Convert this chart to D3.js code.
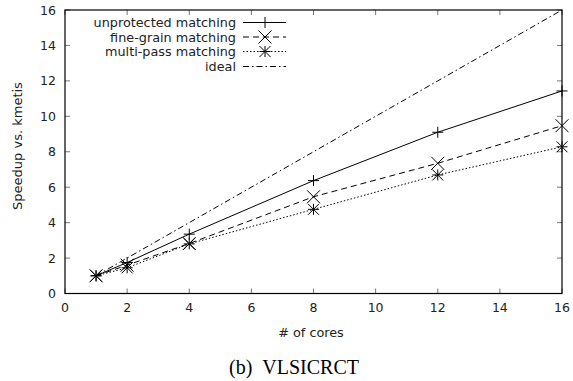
<!DOCTYPE html>
<html>
<head>
<meta charset="utf-8">
<script src="https://cdn.jsdelivr.net/npm/d3@7"></script>
<style>
  body { margin: 0; background: #fff; }
  svg { display: block; }
</style>
</head>
<body>
<div id="chart"></div>
<script>
// Speedup data
const cores = [1, 2, 4, 8, 12, 16]
const unprotected = [1.0, 1.75, 3.35, 6.37, 9.1, 11.43]
const fineGrain = [1.0, 1.6, 2.82, 5.46, 7.35, 9.47]
const multiPass = [1.0, 1.45, 2.8, 4.75, 6.69, 8.28]
const ideal = [1, 2, 4, 8, 12, 16]
const xTicks = [0, 2, 4, 6, 8, 10, 12, 14, 16]
const yTicks = [0, 2, 4, 6, 8, 10, 12, 14, 16]
const seriesNames = ["unprotected matching", "fine-grain matching", "multi-pass matching", "ideal"]

const width = 573, height = 381
const margin = { left: 65, right: 11, top: 10, bottom: 87.5 }
const font = "DejaVu Sans, sans-serif"

const svg = d3.select("#chart").append("svg")
  .attr("width", width)
  .attr("height", height)

const x = d3.scaleLinear().domain([0, 16]).range([margin.left, width - margin.right])
const y = d3.scaleLinear().domain([0, 16]).range([height - margin.bottom, margin.top])

const series = [
  { name: seriesNames[0], values: unprotected, dash: null, marker: "plus" },
  { name: seriesNames[1], values: fineGrain, dash: "6,4", marker: "cross" },
  { name: seriesNames[2], values: multiPass, dash: "1.5,2", marker: "star" },
  { name: seriesNames[3], values: ideal, dash: "6,3,1.5,3", marker: null }
]

// ticks, mirrored on all four sides, pointing inward
const tickLen = 5
const ticks = svg.append("g").attr("stroke", "#777").attr("stroke-width", 1)
xTicks.forEach(t => {
  ticks.append("line").attr("x1", x(t)).attr("x2", x(t))
    .attr("y1", y(0)).attr("y2", y(0) - tickLen)
  ticks.append("line").attr("x1", x(t)).attr("x2", x(t))
    .attr("y1", y(16)).attr("y2", y(16) + tickLen)
})
yTicks.forEach(t => {
  ticks.append("line").attr("x1", x(0)).attr("x2", x(0) + tickLen)
    .attr("y1", y(t)).attr("y2", y(t))
  ticks.append("line").attr("x1", x(16)).attr("x2", x(16) - tickLen)
    .attr("y1", y(t)).attr("y2", y(t))
})

// tick labels
svg.append("g").selectAll("text").data(xTicks).enter().append("text")
  .attr("x", d => x(d)).attr("y", y(0) + 18)
  .attr("text-anchor", "middle")
  .attr("font-family", font).attr("font-size", 12.5).attr("fill", "#222")
  .text(d => d)
svg.append("g").selectAll("text").data(yTicks).enter().append("text")
  .attr("x", x(0) - 9).attr("y", d => y(d) + 4.5)
  .attr("text-anchor", "end")
  .attr("font-family", font).attr("font-size", 12.5).attr("fill", "#222")
  .text(d => d)

// border
svg.append("rect")
  .attr("x", x(0)).attr("y", y(16))
  .attr("width", x(16) - x(0)).attr("height", y(0) - y(16))
  .attr("fill", "none").attr("stroke", "#000").attr("stroke-width", 1.2)

// axis titles
svg.append("text")
  .attr("transform", "translate(22,146) rotate(-90)")
  .attr("text-anchor", "middle")
  .attr("font-family", font).attr("font-size", 13).attr("fill", "#222")
  .text("Speedup vs. kmetis")
svg.append("text")
  .attr("x", 311).attr("y", 337)
  .attr("text-anchor", "middle")
  .attr("font-family", font).attr("font-size", 12.8).attr("fill", "#222")
  .text("# of cores")
svg.append("text")
  .attr("x", 294).attr("y", 374)
  .attr("text-anchor", "middle")
  .attr("font-family", "Liberation Serif, Times New Roman, serif").attr("font-size", 20)
  .attr("fill", "#000")
  .text("(b)\u00a0\u00a0VLSICRCT")

function drawMarker(g, type, cx, cy) {
  const s = 5.5
  const m = g.append("g").attr("stroke", "#000").attr("stroke-width", 1).attr("fill", "none")
  if (type === "plus" || type === "star") {
    m.append("line").attr("x1", cx - s).attr("x2", cx + s).attr("y1", cy).attr("y2", cy)
    m.append("line").attr("x1", cx).attr("x2", cx).attr("y1", cy - s).attr("y2", cy + s)
  }
  if (type === "cross" || type === "star") {
    const c = type === "star" ? s : s + 1
    m.append("line").attr("x1", cx - c).attr("x2", cx + c).attr("y1", cy - c).attr("y2", cy + c)
    m.append("line").attr("x1", cx - c).attr("x2", cx + c).attr("y1", cy + c).attr("y2", cy - c)
  }
}

const line = d3.line()
  .x((d, i) => x(cores[i]))
  .y(d => y(d))

series.forEach(s => {
  svg.append("path")
    .datum(s.values)
    .attr("d", line)
    .attr("fill", "none")
    .attr("stroke", "#000")
    .attr("stroke-width", 1)
    .attr("stroke-dasharray", s.dash)
  if (s.marker) {
    const g = svg.append("g")
    s.values.forEach((v, i) => drawMarker(g, s.marker, x(cores[i]), y(v)))
  }
})

// legend
const legendRight = 236
const rowY = [22.5, 37, 51.5, 66.5]
series.forEach((s, i) => {
  const ly = rowY[i]
  svg.append("text")
    .attr("x", legendRight).attr("y", ly + 4.5)
    .attr("text-anchor", "end")
    .attr("font-family", font).attr("font-size", 12.8).attr("fill", "#222")
    .text(s.name)
  svg.append("line")
    .attr("x1", 243).attr("x2", 286).attr("y1", ly).attr("y2", ly)
    .attr("stroke", "#000").attr("stroke-width", 1)
    .attr("stroke-dasharray", s.dash)
  if (s.marker) drawMarker(svg, s.marker, 265, ly)
})
</script>
</body>
</html>
